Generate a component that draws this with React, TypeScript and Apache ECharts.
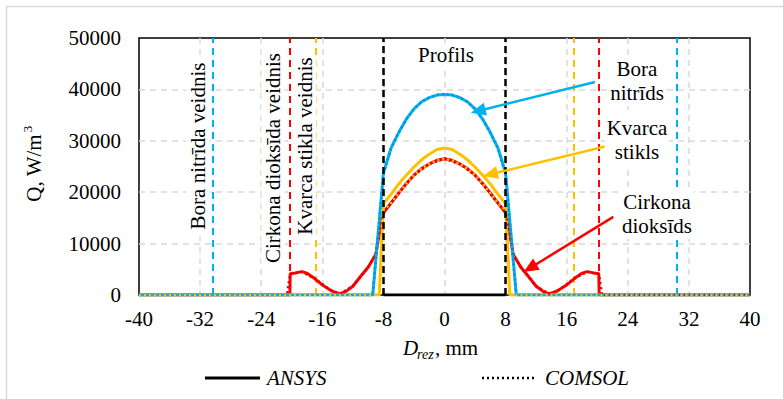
import React, { useEffect, useRef } from 'react';
import * as echarts from 'echarts';

// x ticks
const xMin = -40;
const xMax = 40;
const xStep = 8;
const yMax = 50000;
const yStep = 10000;

// ANSYS results (solid)
const boraAnsys: [number, number][] = [
  [-40, 0], [-9.4, 0], [-8, 23700], [-7, 28600], [-6, 31600], [-5, 34200], [-4, 36200], [-3, 37600],
  [-2, 38400], [-1, 38900], [0, 39000], [1, 38900], [2, 38400], [3, 37600], [4, 36200], [5, 34200],
  [6, 31600], [7, 28600], [8, 23700], [9.4, 0], [40, 0],
];
const kvarcaAnsys: [number, number][] = [
  [-40, 0], [-8.55, 0], [-8, 17800], [-7, 19600], [-6, 21600], [-5, 23300], [-4, 24900], [-3, 26300],
  [-2, 27400], [-1, 28300], [0, 28600], [1, 28300], [2, 27400], [3, 26300], [4, 24900], [5, 23300],
  [6, 21600], [7, 19600], [8, 17800], [8.55, 0], [40, 0],
];
const cirkonaAnsys: [number, number][] = [
  [-40, 0], [-20.25, 0], [-20.2, 4150], [-19.5, 4300], [-18.7, 4550], [-18, 4250], [-17, 3200],
  [-16, 1950], [-15, 1000], [-14.5, 600], [-13.7, 250], [-13, 600], [-12, 1700], [-11, 3600],
  [-10, 5400], [-9, 7900], [-8.5, 12300], [-8, 16000], [-7, 17900], [-6, 19800], [-5, 21700],
  [-4, 23300], [-3, 24600], [-2, 25500], [-1, 26200], [0, 26500], [1, 26200], [2, 25500], [3, 24600],
  [4, 23300], [5, 21700], [6, 19800], [7, 17900], [8, 16000], [8.5, 12300], [9, 7900], [10, 5400],
  [11, 3600], [12, 1700], [13, 600], [13.7, 250], [14.5, 600], [15, 1000], [16, 1950], [17, 3200],
  [18, 4250], [18.7, 4550], [19.5, 4300], [20.2, 4150], [20.25, 0], [40, 0],
];

// COMSOL results (dotted)
const boraComsol: [number, number][] = [
  [-40, 0], [-9.4, 0], [-8, 23500], [-7, 28500], [-6, 31600], [-5, 34200], [-4, 36200], [-3, 37600],
  [-2, 38400], [-1, 38900], [0, 39100], [1, 38900], [2, 38400], [3, 37600], [4, 36200], [5, 34200],
  [6, 31600], [7, 28500], [8, 23500], [9.4, 0], [40, 0],
];
const kvarcaComsol: [number, number][] = [
  [-40, 0], [-8.5, 0], [-8, 16500], [-7, 17900], [-6, 19800], [-5, 21700], [-4, 23300], [-3, 24600],
  [-2, 25500], [-1, 26200], [0, 26500], [1, 26200], [2, 25500], [3, 24600], [4, 23300], [5, 21700],
  [6, 19800], [7, 17900], [8, 16500], [8.5, 0], [40, 0],
];
const cirkonaComsol: [number, number][] = [
  [-40, 0], [-20.6, 0], [-20.5, 1300], [-20.2, 4100], [-18.7, 4500], [-17, 3200], [-15, 1000],
  [-13.7, 250], [-12, 1700], [-10, 5400], [-9, 7900], [-8.5, 12300], [-8, 16000], [-6, 19800],
  [-4, 23300], [-2, 25500], [0, 26500], [2, 25500], [4, 23300], [6, 19800], [8, 16000], [8.5, 12300],
  [9, 7900], [10, 5400], [12, 1700], [13.7, 250], [15, 1000], [17, 3200], [18.7, 4500], [20.2, 4100],
  [20.5, 1300], [20.6, 0], [40, 0],
];

// profile (sample) outline
const profileBase: [number, number][] = [[-8, 0], [8, 0]];
const profileEdges = [-8, 8];

// mould boundaries (veidnis)
const boraMould = [-30.4, 30.4];
const cirkonaMould = [-20.25, 20.25];
const kvarcaMould = [-16.9, 16.9];

// arrows [start, head] in data units
const boraArrow: [number, number][] = [[19.7, 41440], [4.4, 35800]];
const kvarcaArrow: [number, number][] = [[21.3, 29000], [6.0, 23500]];
const cirkonaArrow: [number, number][] = [[22.1, 15200], [11.2, 5250]];

const BLUE = '#00B0F0';
const YELLOW = '#FFC000';
const RED = '#FF0000';
const FONT = 'Liberation Serif, Times New Roman, serif';

function vlines(xs: number[], color: string, width: number, dash: number[]) {
  return xs.map((x) => ({ xAxis: x, lineStyle: { color, width, type: dash } }));
}

function arrow(pts: [number, number][], color: string) {
  return [
    { coord: pts[0], symbol: 'none', lineStyle: { color, width: 2.5, type: 'solid' } },
    { coord: pts[1], symbol: 'triangle', symbolSize: [13, 15], lineStyle: { color, width: 2.5, type: 'solid' } },
  ];
}

export default function App() {
  const ref = useRef<HTMLDivElement>(null);
  useEffect(() => {
    if (!ref.current) return;
    const chart = echarts.init(ref.current, undefined, { renderer: 'svg' });
    const solid = (name: string, data: [number, number][], color: string, z: number) => ({
      name, type: 'line', data, showSymbol: false, symbol: 'none', z,
      lineStyle: { color, width: 3, type: 'solid' }, itemStyle: { color }, silent: true,
    });
    const dotted = (name: string, data: [number, number][], color: string, z: number) => ({
      name, type: 'line', data, showSymbol: false, symbol: 'none', z,
      lineStyle: { color, width: 2.5, type: [2, 3] }, itemStyle: { color }, silent: true,
    });
    const holder = (name: string, markData: any[], z: number) => ({
      name, type: 'line', data: [[0, 0]], showSymbol: false, symbol: 'none', z,
      lineStyle: { opacity: 0 }, silent: true,
      markLine: { silent: true, symbol: ['none', 'none'], label: { show: false }, animation: false, data: markData, z },
    });
    const txtStyle = { font: `21px ${FONT}`, fill: '#000', align: 'center', verticalAlign: 'middle', backgroundColor: '#fff', padding: [1, 2] };
    const split = { show: true, showMinLine: false, showMaxLine: false, lineStyle: { color: '#d9d9d9', width: 1.5, type: [6, 5] } };
    const tickLabel = (margin: number) => ({
      color: '#000', fontFamily: FONT, fontSize: 21, margin,
      formatter: (v: number) => `{t|${v}}`,
      rich: { t: { fontFamily: FONT, fontSize: 21, color: '#000' } },
    });
    const option: any = {
      animation: false,
      textStyle: { fontFamily: FONT },
      grid: { left: 139, top: 38, right: 33, bottom: 104, show: true, borderColor: '#000', borderWidth: 1.5, backgroundColor: 'transparent' },
      xAxis: {
        type: 'value', min: xMin, max: xMax, interval: xStep,
        axisLine: { show: false }, axisTick: { show: false },
        axisLabel: tickLabel(13),
        splitLine: split,
      },
      yAxis: {
        type: 'value', min: 0, max: yMax, interval: yStep,
        axisLine: { show: false }, axisTick: { show: false },
        axisLabel: tickLabel(18),
        splitLine: split,
      },
      series: [
        holder('moulds', [
          ...vlines(boraMould, BLUE, 2, [7, 5]),
          ...vlines(cirkonaMould, RED, 2, [7, 5]),
          ...vlines(kvarcaMould, YELLOW, 2, [7, 5]),
        ], 1),
        { name: 'profile', type: 'line', data: profileBase, showSymbol: false, symbol: 'none', z: 2,
          lineStyle: { color: '#000', width: 3 }, silent: true },
        solid('Cirkona dioksīds ANSYS', cirkonaAnsys, RED, 3),
        solid('Kvarca stikls ANSYS', kvarcaAnsys, YELLOW, 4),
        solid('Bora nitrīds ANSYS', boraAnsys, BLUE, 5),
        dotted('Cirkona dioksīds COMSOL', cirkonaComsol, '#E00000', 6),
        dotted('Bora nitrīds COMSOL', boraComsol, '#0098D8', 7),
        dotted('Kvarca stikls COMSOL', kvarcaComsol, YELLOW, 8),
        holder('profile edges', vlines(profileEdges, '#000', 2.5, [7, 4]), 9),
        holder('arrows', [arrow(boraArrow, BLUE), arrow(kvarcaArrow, YELLOW), arrow(cirkonaArrow, RED)], 10),
      ],
      graphic: [
        { type: 'rect', z: 0, shape: { x: 6.5, y: 6.5, width: 900, height: 600 }, style: { fill: 'none', stroke: '#d9d9d9', lineWidth: 1.5 }, silent: true },
        { type: 'text', z: 100, x: 198, y: 146, rotation: Math.PI / 2, style: { ...txtStyle, text: 'Bora nitrīda veidnis' } },
        { type: 'text', z: 100, x: 273, y: 158, rotation: Math.PI / 2, style: { ...txtStyle, text: 'Cirkona dioksīda veidnis' } },
        { type: 'text', z: 100, x: 305, y: 146, rotation: Math.PI / 2, style: { ...txtStyle, text: 'Kvarca stikla veidnis' } },
        { type: 'text', z: 100, x: 446, y: 55, style: { ...txtStyle, text: 'Profils' } },
        { type: 'text', z: 100, x: 637, y: 81, style: { ...txtStyle, text: 'Bora\nnitrīds', lineHeight: 24 } },
        { type: 'text', z: 100, x: 637, y: 140, style: { ...txtStyle, text: 'Kvarca\nstikls', lineHeight: 24 } },
        { type: 'text', z: 100, x: 657, y: 214, style: { ...txtStyle, text: 'Cirkona\ndioksīds', lineHeight: 24 } },
        // y axis title
        { type: 'text', z: 100, x: 34, y: 168, rotation: Math.PI / 2, style: { font: `21px ${FONT}`, fill: '#000', align: 'center', verticalAlign: 'middle', text: 'Q, W/m' } },
        { type: 'text', z: 100, x: 27, y: 129, rotation: Math.PI / 2, style: { font: `13px ${FONT}`, fill: '#000', align: 'center', verticalAlign: 'middle', text: '3' } },
        // x axis title
        { type: 'text', z: 100, x: 403, y: 348, style: { font: `italic 21px ${FONT}`, fill: '#000', align: 'left', verticalAlign: 'middle', text: 'D' } },
        { type: 'text', z: 100, x: 417, y: 354, style: { font: `italic 14px ${FONT}`, fill: '#000', align: 'left', verticalAlign: 'middle', text: 'rez' } },
        { type: 'text', z: 100, x: 435, y: 348, style: { font: `21px ${FONT}`, fill: '#000', align: 'left', verticalAlign: 'middle', text: ', mm' } },
        // legend
        { type: 'line', z: 100, shape: { x1: 205, y1: 378, x2: 260, y2: 378 }, style: { stroke: '#000', lineWidth: 3 } },
        { type: 'text', z: 100, x: 267, y: 378, style: { font: `italic 21px ${FONT}`, fill: '#000', align: 'left', verticalAlign: 'middle', text: 'ANSYS' } },
        { type: 'line', z: 100, shape: { x1: 482, y1: 378, x2: 534, y2: 378 }, style: { stroke: '#000', lineWidth: 2.5, lineDash: [2, 3] } },
        { type: 'text', z: 100, x: 545, y: 378, style: { font: `italic 21px ${FONT}`, fill: '#000', align: 'left', verticalAlign: 'middle', text: 'COMSOL' } },
      ],
    };
    chart.setOption(option);
    return () => chart.dispose();
  }, []);
  return <div ref={ref} style={{ position: 'fixed', left: 0, top: 0, width: 783, height: 399, background: '#fff' }} />;
}
